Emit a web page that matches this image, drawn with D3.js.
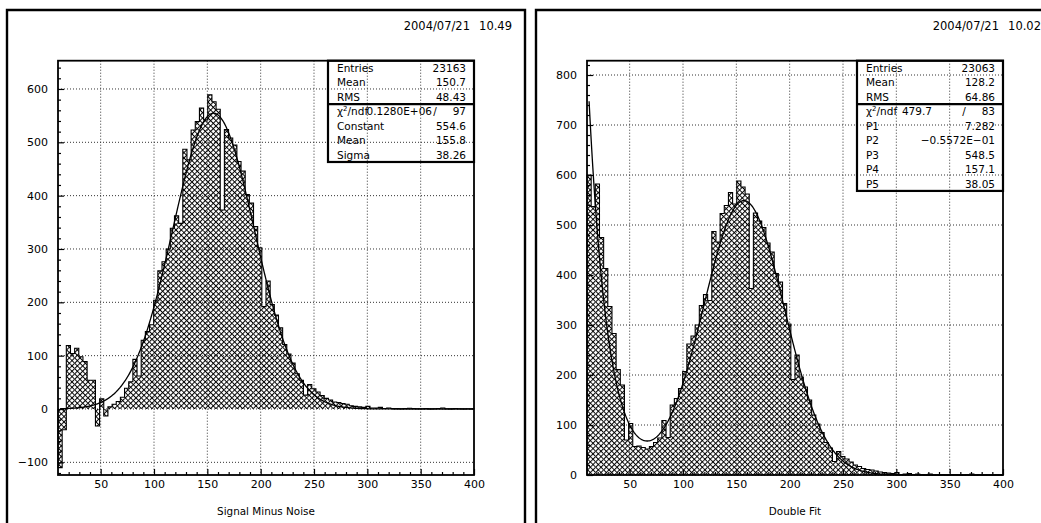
<html>
<head>
<meta charset="UTF-8">
<title>Signal Minus Noise / Double Fit</title>
<script src="https://d3js.org/d3.v7.min.js"></script>
<style>
html,body{margin:0;padding:0;background:#fff;}
svg text{font-family:"DejaVu Sans",sans-serif;fill:#000;}
.grid line{stroke:#333;stroke-width:1;stroke-dasharray:1,2;}
.tick line{stroke:#000;stroke-width:1.2;}
.tick text{font-size:11px;}
.outline{fill:none;stroke:#000;stroke-width:1.1;}
.fit{fill:none;stroke:#000;stroke-width:1.3;}
</style>
</head>
<body>
<div id="container"></div>
<script>
// histogram binning: 100 bins from 10 to 400
const binLow = 10, binHigh = 400, nBins = 100

// bin contents
const signalMinusNoise = [
  -110, -39, 119, 104, 114, 98, 89, 54, 54, -32,
  19, -13, 4, 9, 14, 22, 39, 51, 93, 62,
  129, 145, 158, 204, 259, 276, 300, 339, 362, 348,
  487, 467, 523, 539, 564, 542, 589, 576, 562, 373,
  524, 508, 495, 464, 446, 402, 386, 342, 302, 192,
  240, 196, 176, 152, 121, 103, 86, 66, 54, 26,
  46, 38, 32, 25, 20, 17, 13, 12, 10, 9,
  6, 5, 4, 3, 5, 2, 2, 3, 1, 2,
  1, 1, 0.5, 1, 1.5, 1, 0.5, 0.5, 1, 0.3,
  0.5, 1, 2, 0.5, 0.3, 1, 0.5, 0.3, 0.5, 0.3
]
const doubleFit = [
  600, 537, 582, 475, 413, 337, 283, 211, 180, 70,
  103, 57, 58, 55, 52, 57, 65, 74, 109, 75,
  140, 153, 173, 207, 262, 278, 300, 339, 361, 349,
  487, 466, 523, 539, 565, 542, 588, 576, 562, 373,
  524, 508, 495, 464, 446, 403, 386, 343, 302, 191,
  240, 196, 176, 150, 120, 102, 85, 65, 54, 27,
  47, 37, 32, 26, 20, 17, 13, 11, 10, 8,
  6, 5, 4, 3, 5, 1, 2, 3, 1, 2,
  1, 0, 2, 0, 0, 1, 0, 1, 1, 0,
  0, 1, 2, 0, 1, 0, 0, 0, 0, 0
]

// fit parameters (from the stat boxes)
const gausPars = [554.6, 155.8, 38.26]
const doublePars = [7.282, -0.05572, 548.5, 157.1, 38.05]

const xTicks = [50, 100, 150, 200, 250, 300, 350, 400]
const leftYTicks = [-100, 0, 100, 200, 300, 400, 500, 600]
const rightYTicks = [0, 100, 200, 300, 400, 500, 600, 700, 800]

const leftStats = [["Entries", "23163"], ["Mean", "150.7"], ["RMS", "48.43"]]
const leftFitStats = [["Constant", "554.6"], ["Mean", "155.8"], ["Sigma", "38.26"]]
const leftChi = ["0.1280E+06", "97"]
const rightStats = [["Entries", "23063"], ["Mean", "128.2"], ["RMS", "64.86"]]
const rightFitStats = [["P1", "7.282"], ["P2", "\u22120.5572E\u221201"], ["P3", "548.5"], ["P4", "157.1"], ["P5", "38.05"]]
const rightChi = ["479.7", "83"]

const W = 1041, H = 523
const plot = { left: 58, right: 474, top: 60.7, bottom: 475 }

const gaus = (x, c, m, s) => c * Math.exp(-0.5 * ((x - m) / s) ** 2)

const panels = [
  {
    dx: 0, data: signalMinusNoise, yDomain: [-123.75, 653], yTicks: leftYTicks,
    title: "Signal Minus Noise", date: ["2004/07/21", "10.49"],
    stats: leftStats, fitStats: leftFitStats, chi: leftChi, chiValEnd: 104,
    fit: x => gaus(x, gausPars[0], gausPars[1], gausPars[2])
  },
  {
    dx: 529, data: doubleFit, yDomain: [0, 828.6], yTicks: rightYTicks,
    title: "Double Fit", date: ["2004/07/21", "10.02"],
    stats: rightStats, fitStats: rightFitStats, chi: rightChi, chiValEnd: 75,
    fit: x => Math.exp(doublePars[0] + doublePars[1] * x) + gaus(x, doublePars[2], doublePars[3], doublePars[4])
  }
]

const svg = d3.select("#container").append("svg")
  .attr("width", W).attr("height", H)

// cross hatch
svg.append("defs").append("pattern")
  .attr("id", "hatch")
  .attr("patternUnits", "userSpaceOnUse")
  .attr("width", 3.77).attr("height", 3.77)
  .attr("patternTransform", "rotate(45)")
  .append("path")
  .attr("d", "M0,0.5H3.77M0.5,0V3.77")
  .attr("stroke", "#000").attr("stroke-width", 1.05)

panels.forEach(drawPanel)

function drawPanel(p) {
  const g = svg.append("g").attr("transform", "translate(" + p.dx + ",0)")

  // page frame
  g.append("path").attr("d", "M7,540V10H525V540")
    .attr("fill", "none").attr("stroke", "#000").attr("stroke-width", 2.4)

  const x = d3.scaleLinear().domain([binLow, binHigh]).range([plot.left, plot.right])
  const y = d3.scaleLinear().domain(p.yDomain).range([plot.bottom, plot.top])

  const xMinor = d3.range(20, 400, 10).filter(v => v % 50 !== 0)
  const yMinor = d3.range(Math.ceil(p.yDomain[0] / 20) * 20, p.yDomain[1], 20).filter(v => v % 100 !== 0)

  // grid
  const grid = g.append("g").attr("class", "grid")
  grid.selectAll(".gx").data(xTicks.filter(v => v < binHigh)).enter().append("line")
    .attr("x1", d => x(d)).attr("x2", d => x(d))
    .attr("y1", plot.top).attr("y2", plot.bottom)
  grid.selectAll(".gy").data(p.yTicks).enter().append("line")
    .attr("x1", plot.left).attr("x2", plot.right)
    .attr("y1", d => y(d)).attr("y2", d => y(d))

  // histogram
  const bw = (binHigh - binLow) / nBins
  const bins = p.data.map((v, i) => ({ x0: binLow + i * bw, x1: binLow + (i + 1) * bw, v: v }))

  g.append("g").selectAll("rect").data(bins.filter(b => b.v !== 0)).enter().append("rect")
    .attr("x", d => x(d.x0))
    .attr("width", d => x(d.x1) - x(d.x0))
    .attr("y", d => y(Math.max(d.v, 0)))
    .attr("height", d => Math.abs(y(d.v) - y(0)))
    .attr("fill", "url(#hatch)")

  let path = "M" + x(bins[0].x0) + "," + y(0)
  bins.forEach(b => {
    path += "L" + x(b.x0) + "," + y(b.v) + "L" + x(b.x1) + "," + y(b.v)
  })
  path += "L" + x(bins[bins.length - 1].x1) + "," + y(0)
  g.append("path").attr("class", "outline").attr("d", path)

  // fit curve, from first to last bin centre
  const xs = d3.range(binLow + bw / 2, binHigh, 0.5)
  const line = d3.line().x(d => x(d)).y(d => y(p.fit(d)))
  g.append("path").attr("class", "fit").attr("d", line(xs))

  // axes
  const xAxis = g.append("g").attr("transform", "translate(0," + plot.bottom + ")")
  xAxis.call(d3.axisBottom(x).tickValues(xTicks).tickSizeInner(-6).tickSizeOuter(0).tickPadding(5))
  xAxis.append("g").call(d3.axisBottom(x).tickValues(xMinor).tickSizeInner(-3).tickSizeOuter(0).tickFormat(""))

  const yAxis = g.append("g").attr("transform", "translate(" + plot.left + ",0)")
  yAxis.call(d3.axisLeft(y).tickValues(p.yTicks).tickSizeInner(-6).tickSizeOuter(0).tickPadding(10))
  yAxis.append("g").call(d3.axisLeft(y).tickValues(yMinor).tickSizeInner(-3).tickSizeOuter(0).tickFormat(""))
  g.selectAll(".domain").remove()
  g.selectAll(".tick text").attr("font-family", "DejaVu Sans").attr("font-size", 11)

  g.append("rect")
    .attr("x", plot.left).attr("y", plot.top)
    .attr("width", plot.right - plot.left).attr("height", plot.bottom - plot.top)
    .attr("fill", "none").attr("stroke", "#000").attr("stroke-width", 1.8)

  // axis title
  g.append("text")
    .attr("x", (plot.left + plot.right) / 2).attr("y", 515)
    .attr("text-anchor", "middle").attr("font-size", 10.4)
    .text(p.title)

  // date
  g.append("text").attr("x", 470).attr("y", 30).attr("text-anchor", "end").attr("font-size", 11.5).text(p.date[0])
  g.append("text").attr("x", 512).attr("y", 30).attr("text-anchor", "end").attr("font-size", 11.5).text(p.date[1])

  // stat box
  const bx0 = plot.right - 146, bx1 = plot.right, rowH = 14.47
  const nRows = p.stats.length + 1 + p.fitStats.length
  const box = g.append("g")
  box.append("rect")
    .attr("x", bx0).attr("y", plot.top)
    .attr("width", bx1 - bx0).attr("height", nRows * rowH)
    .attr("fill", "none").attr("stroke", "#000").attr("stroke-width", 2.2)
  box.append("line")
    .attr("x1", bx0).attr("x2", bx1)
    .attr("y1", plot.top + 3 * rowH).attr("y2", plot.top + 3 * rowH)
    .attr("stroke", "#000").attr("stroke-width", 2.2)

  const rows = p.stats.concat([null], p.fitStats)
  rows.forEach((r, i) => {
    const ty = plot.top + (i + 0.5) * rowH + 4
    if (r === null) {
      const t = box.append("text").attr("x", bx0 + 9).attr("y", ty).attr("font-size", 10.5)
      t.append("tspan").text("\u03c7")
      t.append("tspan").attr("font-size", 7).attr("dy", -4).text("2")
      t.append("tspan").attr("dy", 4).text("/ndf")
      box.append("text").attr("x", bx0 + p.chiValEnd).attr("y", ty).attr("text-anchor", "end").attr("font-size", 10.5).text(p.chi[0])
      box.append("text").attr("x", bx0 + 107).attr("y", ty).attr("text-anchor", "middle").attr("font-size", 10.5).text("/")
      box.append("text").attr("x", bx1 - 8).attr("y", ty).attr("text-anchor", "end").attr("font-size", 10.5).text(p.chi[1])
      return
    }
    box.append("text").attr("x", bx0 + 9).attr("y", ty).attr("font-size", 10.5).text(r[0])
    box.append("text").attr("x", bx1 - 8).attr("y", ty).attr("text-anchor", "end").attr("font-size", 10.5).text(r[1])
  })
}
</script>
</body>
</html>
